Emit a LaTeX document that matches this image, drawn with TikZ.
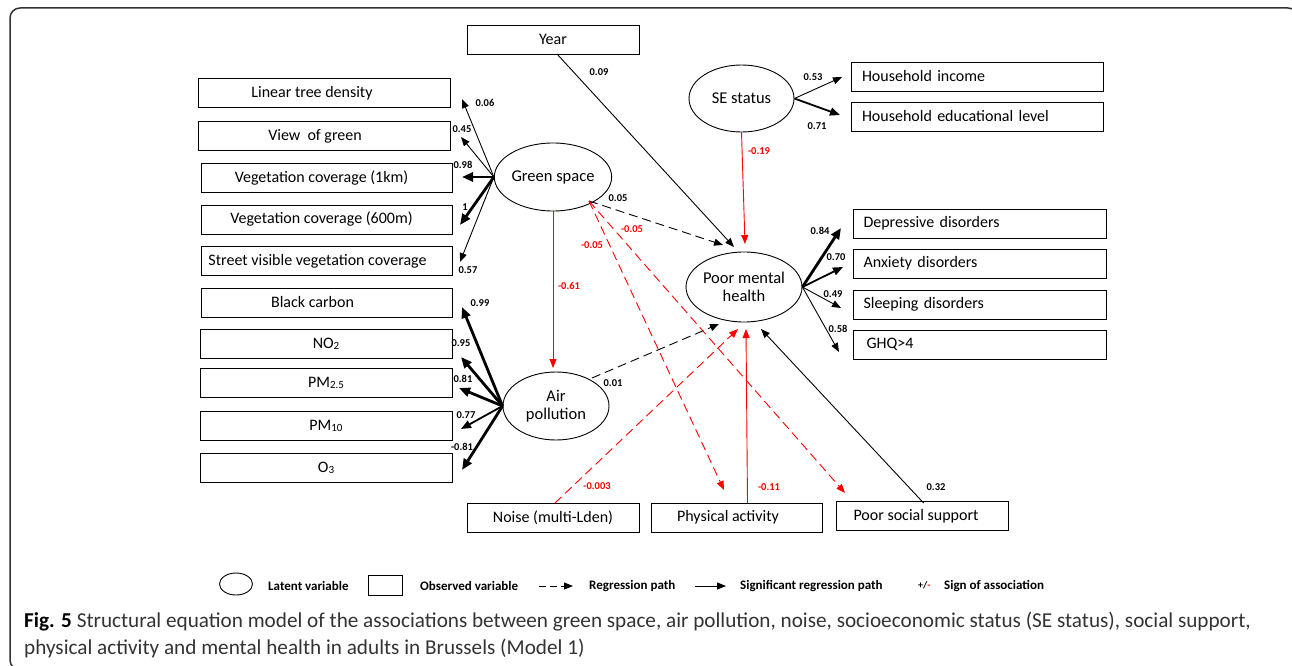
\documentclass[tikz,border=0pt]{standalone}
\usepackage{fontspec}
\setmainfont{Carlito}
\usetikzlibrary{shapes.geometric,arrows.meta,calc}
\definecolor{capgray}{HTML}{333333}
\definecolor{framegray}{HTML}{333333}
\begin{document}
\begin{tikzpicture}[x=1pt,y=-1pt,
 box/.style={draw,line width=0.9pt,minimum height=29pt,inner sep=0pt,font=\fontsize{16}{18}\selectfont},
 rbox/.style={box,text width=#1,align=left},
 lat/.style={draw,ellipse,line width=0.9pt,inner sep=0pt,align=center,font=\fontsize{16.5}{18}\selectfont},
 num/.style={font=\bfseries\fontsize{10.5}{12}\selectfont,inner sep=0pt},
 rnum/.style={num,text=red},
 thinarr/.style={-{Triangle[length=9pt,width=7pt]},line width=0.9pt},
 midarr/.style={-{Triangle[length=10pt,width=8pt]},line width=1.8pt},
 thickarr/.style={-{Triangle[length=11pt,width=9pt]},line width=2.8pt},
 dsh/.style={dash pattern=on 9pt off 5pt},
 leg/.style={font=\bfseries\fontsize{13}{15}\selectfont,inner sep=0pt,anchor=west},
]
\useasboundingbox (0,0) rectangle (1292,666);
\begin{scope}
\clip (0,0) rectangle (1292,666);
\draw[framegray,line width=1.5pt,rounded corners=10pt] (10,8) rectangle (1298,670);
\end{scope}

% left observed (green space)
\node[box,minimum width=252pt] (ltd) at (324,93) {\hspace*{-24pt}Linear tree density};
\node[box,minimum width=252pt] (vog) at (324,136) {\hspace*{-18pt}View\ \ of green};
\node[box,minimum width=251pt] (vc1) at (326.5,178) {\hspace*{-10pt}Vegetation coverage (1km)};
\node[box,minimum width=251pt] (vc6) at (326.5,219.5) {\hspace*{-10pt}Vegetation coverage (600m)};
\node[box,minimum width=251pt] (svv) at (326.5,261) {\hspace*{-18pt}Street visible vegetation coverage};
% left observed (air pollution)
\node[box,minimum width=251pt] (bc) at (326.5,302.5) {\hspace*{-28pt}Black carbon};
\node[box,minimum width=252pt] (no2) at (326,343.5) {NO\raisebox{-1pt}{\fontsize{11}{12}\selectfont 2}};
\node[box,minimum width=252pt] (pm25) at (326,383) {PM\raisebox{-1pt}{\fontsize{11}{12}\selectfont 2.5}};
\node[box,minimum width=252pt] (pm10) at (326,425.5) {PM\raisebox{-1pt}{\fontsize{11}{12}\selectfont 10}};
\node[box,minimum width=252pt] (o3) at (326,467.5) {O\raisebox{-1pt}{\fontsize{11}{12}\selectfont 3}};

% top / right / bottom observed
\node[box,minimum width=172pt] (yr) at (553,39.5) {Year};
\node[rbox=230pt,minimum width=252pt] (hi) at (977,76.5) {Household income};
\node[rbox=230pt,minimum width=252pt] (he) at (977,116.5) {Household educational level};
\node[rbox=232pt,minimum width=253pt] (dd) at (979.5,223.5) {Depressive disorders};
\node[rbox=232pt,minimum width=253pt] (ad) at (979.5,263.5) {Anxiety disorders};
\node[rbox=232pt,minimum width=253pt] (sd) at (979.5,304.5) {Sleeping disorders};
\node[rbox=232pt,minimum width=253pt] (ghq) at (979.5,344.5) {\hspace*{3pt}GHQ>4};
\node[box,minimum width=172pt] (noise) at (553,517.5) {Noise (multi-Lden)};
\node[box,minimum width=171pt] (pa) at (737,517.5) {\hspace*{-18pt}Physical activity};
\node[box,minimum width=172pt] (pss) at (922,516) {\hspace*{-12pt}Poor social support};

% latent
\node[lat,minimum width=105pt,minimum height=68pt] (gs) at (553,177) {Green space};
\node[lat,minimum width=105pt,minimum height=67pt] (ses) at (741.5,98.5) {SE status};
\node[lat,minimum width=106pt,minimum height=70pt] (pmh) at (744,287) {Poor mental\\health};
\node[lat,minimum width=106pt,minimum height=68pt] (ap) at (556,406) {Air\\pollution};

% tip / start coordinates
\coordinate (tltd) at (462,99);
\coordinate (tvog) at (461,137);
\coordinate (tvc1) at (462,177);
\coordinate (tvc6) at (460,225);
\coordinate (tsvv) at (460,262);
\coordinate (tbc) at (462,307);
\coordinate (tno2) at (461,357);
\coordinate (tpm25) at (459,388);
\coordinate (tpm10) at (461,429);
\coordinate (to3) at (462,470);
\coordinate (tdd) at (841,228);
\coordinate (tad) at (843,267);
\coordinate (tsd) at (841,308);
\coordinate (tghq) at (839,352);
\coordinate (thi) at (842,77);
\coordinate (the) at (840,115);
\coordinate (yrs) at (557,54);
\coordinate (tyr) at (734,247);
\coordinate (tses) at (745,244);
\coordinate (tap) at (553,368);
\coordinate (gsse) at (589,201);
\coordinate (tgspmh) at (723,245);
\coordinate (tpa) at (724,490);
\coordinate (tpss) at (845,493);
\coordinate (apne) at (592,378);
\coordinate (tappmh) at (719,324);
\coordinate (nstart) at (555,503);
\coordinate (tnoise) at (738,329);
\coordinate (pastart) at (747.5,503);
\coordinate (tpam) at (746,329);
\coordinate (pssstart) at (923.6,503);
\coordinate (tpssm) at (761,329);

% green space loadings
\draw[thinarr] (gs.west) -- (tltd);
\draw[thinarr] (gs.west) -- (tvog);
\draw[thickarr] (gs.west) -- (tvc1);
\draw[thickarr] (gs.west) -- (tvc6);
\draw[thinarr] (gs.west) -- (tsvv);
% air pollution loadings
\draw[thickarr] (ap.west) -- (tbc);
\draw[thickarr] (ap.west) -- (tno2);
\draw[thickarr] (ap.west) -- (tpm25);
\draw[midarr] (ap.west) -- (tpm10);
\draw[thickarr] (ap.west) -- (to3);
% SES
\draw[thinarr] (ses.east) -- (thi);
\draw[midarr] (ses.east) -- (the);
% PMH indicators
\draw[thickarr] (pmh.east) -- (tdd);
\draw[midarr] (pmh.east) -- (tad);
\draw[thinarr] (pmh.east) -- (tsd);
\draw[thinarr] (pmh.east) -- (tghq);

% structural paths
\draw[thinarr] (yrs) -- (tyr);
\draw[thinarr,red] (ses.south) -- (tses);
\draw[thinarr,red] (gs.south) -- (tap);
\draw[thinarr,dsh] (gsse) -- (tgspmh);
\draw[thinarr,dsh,red] (gsse) -- (tpa);
\draw[thinarr,dsh,red] (gsse) -- (tpss);
\draw[thinarr,dsh] (apne) -- (tappmh);
\draw[thinarr,dsh,red] (nstart) -- (tnoise);
\draw[thinarr,red] (pastart) -- (tpam);
\draw[thinarr] (pssstart) -- (tpssm);

% numbers
\node[num] (l1) at (485,103) {0.06};
\node[num] (l2) at (462,129) {0.45};
\node[num] (l3) at (463,165) {0.98};
\node[num] (l4) at (465,207) {1};
\node[num] (l5) at (468,270) {0.57};
\node[num] (l6) at (480,303) {0.99};
\node[num] (l7) at (461,343) {0.95};
\node[num] (l8) at (463,379) {0.81};
\node[num] (l9) at (466,415) {0.77};
\node[num] (l10) at (462,447) {-0.81};
\node[num] (l11) at (599,72) {0.09};
\node[num] (l12) at (813,77) {0.53};
\node[num] (l13) at (817,126) {0.71};
\node[rnum] (l14) at (759,151) {-0.19};
\node[num] (l15) at (618,198) {0.05};
\node[rnum] (l16) at (592,245) {-0.05};
\node[rnum] (l17) at (632,229) {-0.05};
\node[rnum] (l18) at (569,286) {-0.61};
\node[num] (l19) at (613,383) {0.01};
\node[rnum] (l20) at (597,486) {-0.003};
\node[rnum] (l21) at (769,487) {-0.11};
\node[num] (l22) at (936,487) {0.32};
\node[num] (l23) at (820,231) {0.84};
\node[num] (l24) at (836,257) {0.70};
\node[num] (l25) at (833,294) {0.49};
\node[num] (l26) at (838,329) {0.58};

% legend
\node[draw,ellipse,line width=0.9pt,minimum width=33pt,minimum height=22pt,inner sep=0pt] (lgl) at (236,584) {};
\node[leg] (lglt) at (268,586) {Latent variable};
\node[draw,line width=0.9pt,minimum width=34pt,minimum height=20pt,inner sep=0pt] (lgo) at (385,585) {};
\node[leg] (lgot) at (420,586) {Observed variable};
\coordinate (lgd1) at (539,586);
\coordinate (lgd2) at (573,586);
\draw[thinarr,dash pattern=on 7pt off 4pt] (lgd1) -- (lgd2);
\node[leg] (lgdt) at (589,586) {Regression path};
\coordinate (lgs1) at (695,586);
\coordinate (lgs2) at (726,586);
\draw[thinarr] (lgs1) -- (lgs2);
\node[leg] (lgst) at (740,586) {Significant regression path};
\node[leg,font=\bfseries\fontsize{10}{12}\selectfont] (lgpm) at (918,585) {+/\textcolor{red}{-}};
\node[leg] (lgpt) at (944,586) {Sign of association};

% caption
\node[anchor=base west,inner sep=0pt,align=left,text=capgray,font=\fontsize{21.2}{27}\selectfont] (cap) at (24,654)
 {\textcolor{black}{\bfseries Fig. 5} Structural equation model of the associations between green space, air pollution, noise, socioeconomic status (SE status), social support,\\
 physical activity and mental health in adults in Brussels (Model 1)};
\end{tikzpicture}
\end{document}
